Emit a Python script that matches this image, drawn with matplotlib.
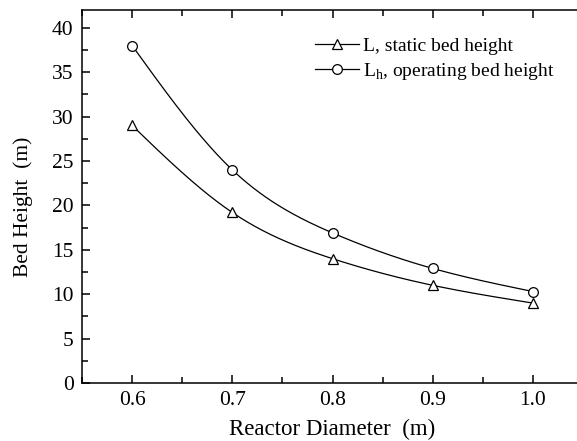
import numpy as np
import matplotlib
matplotlib.use('Agg')
import matplotlib.pyplot as plt
from matplotlib.ticker import MultipleLocator

plt.rcParams['font.family'] = 'Liberation Serif'
plt.rcParams['mathtext.fontset'] = 'custom'
plt.rcParams['mathtext.rm'] = 'Liberation Serif'

diameter = [0.6, 0.7, 0.8, 0.9, 1.0]
static_height = [29.0, 19.2, 14.0, 11.0, 9.0]
operating_height = [38.0, 24.0, 16.9, 12.9, 10.3]


def smooth(x, y, n=200):
    # natural cubic spline through the points, just for drawing the curve
    x = np.asarray(x, float)
    y = np.asarray(y, float)
    h = np.diff(x)
    m = len(x)
    A = np.zeros((m, m))
    b = np.zeros(m)
    A[0, 0] = A[-1, -1] = 1
    for i in range(1, m - 1):
        A[i, i - 1] = h[i - 1]
        A[i, i] = 2 * (h[i - 1] + h[i])
        A[i, i + 1] = h[i]
        b[i] = 6 * ((y[i + 1] - y[i]) / h[i] - (y[i] - y[i - 1]) / h[i - 1])
    M = np.linalg.solve(A, b)
    xs = np.linspace(x[0], x[-1], n)
    k = np.clip(np.searchsorted(x, xs) - 1, 0, m - 2)
    t1 = x[k + 1] - xs
    t0 = xs - x[k]
    ys = (M[k] * t1**3 + M[k + 1] * t0**3) / (6 * h[k]) \
        + (y[k] / h[k] - M[k] * h[k] / 6) * t1 \
        + (y[k + 1] / h[k] - M[k + 1] * h[k] / 6) * t0
    return xs, ys


fig = plt.figure(figsize=(5.77, 4.41), dpi=100)
ax = fig.add_axes([82 / 577, 58 / 441, 501 / 577, 373 / 441])

for vals, mk, lab in [(static_height, '^', 'L, static bed height'),
                      (operating_height, 'o', r'L$_\mathrm{h}$, operating bed height')]:
    xs, ys = smooth(diameter, vals)
    ax.plot(xs, ys, color='black', lw=0.9)
    ax.plot(diameter, vals, linestyle='none', marker=mk, ms=7, mfc='white', mec='black', mew=0.9)
    ax.plot([], [], color='black', lw=0.9, marker=mk, ms=7, mfc='white', mec='black', mew=0.9, label=lab)

ax.set_xlim(0.55, 1.05)
ax.set_ylim(0, 42)
ax.xaxis.set_major_locator(MultipleLocator(0.1))
ax.xaxis.set_minor_locator(MultipleLocator(0.05))
ax.yaxis.set_major_locator(MultipleLocator(5))
ax.yaxis.set_minor_locator(MultipleLocator(2.5))
ax.set_xticks([0.6, 0.7, 0.8, 0.9, 1.0])
ax.set_xticklabels(['0.6', '0.7', '0.8', '0.9', '1.0'])
ax.tick_params(which='both', direction='in', top=True, right=False, labelsize=15.5)
ax.tick_params(which='major', length=6, width=1.1, pad=6)
ax.tick_params(which='minor', length=4, width=1.1)
ax.spines['right'].set_visible(False)
for s in ax.spines.values():
    s.set_linewidth(1.1)

ax.set_xlabel('Reactor Diameter  (m)', fontsize=16.5, labelpad=6)
ax.set_ylabel('Bed Height  (m)', fontsize=15.5)
ax.yaxis.set_label_coords(-0.098, 0.472)

ax.legend(loc='upper left', bbox_to_anchor=(0.45, 0.947), frameon=False, fontsize=14,
          handlelength=2.27, handletextpad=0.2, labelspacing=0.3, borderaxespad=0)

fig.savefig('out.png', dpi=100)
